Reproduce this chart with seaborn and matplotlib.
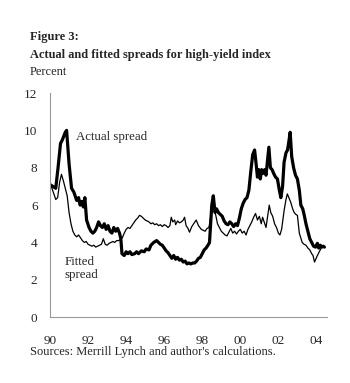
import pandas as pd
import numpy as np
import matplotlib
matplotlib.use("Agg")
import matplotlib.pyplot as plt
import seaborn as sns

# actual spread (thick line): time in years, value in percent
actual_t = [1990.0, 1990.15, 1990.3, 1990.42, 1990.55, 1990.65, 1990.8, 1990.87, 1991.0, 1991.13,
            1991.25, 1991.4, 1991.5, 1991.58, 1991.67, 1991.75, 1991.83, 1991.92, 1992.05, 1992.15,
            1992.25, 1992.35, 1992.45, 1992.55, 1992.65, 1992.75, 1992.85, 1992.95, 1993.05, 1993.15,
            1993.25, 1993.35, 1993.45, 1993.55, 1993.65, 1993.72, 1993.78, 1993.9, 1994.0, 1994.1,
            1994.2, 1994.3, 1994.45, 1994.55, 1994.65, 1994.8, 1994.95, 1995.05, 1995.2, 1995.3,
            1995.45, 1995.6, 1995.7, 1995.8, 1995.9, 1996.0, 1996.1, 1996.2, 1996.3, 1996.4,
            1996.5, 1996.6, 1996.7, 1996.8, 1996.9, 1997.0, 1997.1, 1997.2, 1997.3, 1997.4,
            1997.5, 1997.6, 1997.7, 1997.8, 1997.9, 1998.0, 1998.1, 1998.2, 1998.3, 1998.38,
            1998.5, 1998.58, 1998.67, 1998.75, 1998.85, 1998.95, 1999.05, 1999.15, 1999.25, 1999.35,
            1999.45, 1999.55, 1999.65, 1999.75, 1999.85, 1999.95, 2000.05, 2000.15, 2000.25, 2000.35,
            2000.45, 2000.55, 2000.65, 2000.75, 2000.82, 2000.9, 2000.97, 2001.05, 2001.12, 2001.2,
            2001.28, 2001.35, 2001.42, 2001.5, 2001.58, 2001.67, 2001.75, 2001.85, 2001.95, 2002.05,
            2002.13, 2002.22, 2002.3, 2002.4, 2002.48, 2002.55, 2002.62, 2002.7, 2002.8, 2002.9,
            2003.0, 2003.1, 2003.18, 2003.28, 2003.35, 2003.45, 2003.55, 2003.65, 2003.75, 2003.85,
            2003.95, 2004.05, 2004.12, 2004.2, 2004.28, 2004.35, 2004.42]
actual_v = [7.1, 7.0, 6.9, 8.0, 9.3, 9.5, 9.9, 10.0, 8.2, 6.9,
            6.7, 6.25, 6.4, 6.0, 6.2, 5.9, 6.4, 5.2, 4.8, 4.6,
            4.5, 4.6, 4.8, 5.1, 4.9, 4.8, 5.0, 4.7, 4.9, 4.6,
            4.5, 4.8, 4.6, 4.75, 4.5, 4.2, 3.4, 3.3, 3.5, 3.4,
            3.5, 3.35, 3.4, 3.5, 3.4, 3.55, 3.5, 3.65, 3.6, 3.85,
            4.0, 4.1, 4.0, 3.9, 3.85, 3.7, 3.55, 3.45, 3.3, 3.15,
            3.3, 3.1, 3.2, 3.05, 3.1, 2.95, 3.0, 2.85, 2.9, 2.85,
            2.9, 2.9, 3.0, 3.15, 3.2, 3.4, 3.6, 3.7, 3.85, 4.0,
            6.0, 6.5, 5.6, 5.8, 5.6, 5.5, 5.4, 5.15, 5.0, 4.95,
            5.1, 5.0, 4.85, 5.0, 4.9, 5.3, 5.8, 6.1, 6.3, 6.4,
            6.8, 7.8, 8.7, 8.95, 8.3, 7.5, 7.9, 7.4, 7.9, 7.7,
            7.9, 7.6, 8.3, 9.1, 8.0, 7.9, 7.7, 7.5, 7.4, 6.8,
            6.4, 7.0, 8.3, 8.8, 8.95, 9.4, 9.9, 8.6, 8.0, 7.6,
            7.4, 6.8, 6.0, 5.8, 5.5, 5.0, 4.6, 4.2, 4.0, 3.8,
            3.75, 3.95, 3.7, 3.85, 3.75, 3.8, 3.75]

# fitted spread (thin line)
fitted_t = [1990.0, 1990.1, 1990.2, 1990.3, 1990.4, 1990.5, 1990.6, 1990.7, 1990.8, 1990.9,
            1991.0, 1991.1, 1991.2, 1991.3, 1991.4, 1991.5, 1991.6, 1991.7, 1991.8, 1991.9,
            1992.0, 1992.1, 1992.2, 1992.3, 1992.4, 1992.5, 1992.6, 1992.7, 1992.8, 1992.9,
            1993.0, 1993.1, 1993.2, 1993.3, 1993.4, 1993.5, 1993.6, 1993.7, 1993.8, 1993.9,
            1994.0, 1994.1, 1994.2, 1994.3, 1994.4, 1994.5, 1994.6, 1994.7, 1994.8, 1994.9,
            1995.0, 1995.1, 1995.2, 1995.3, 1995.4, 1995.5, 1995.6, 1995.7, 1995.8, 1995.9,
            1996.0, 1996.1, 1996.2, 1996.3, 1996.37, 1996.45, 1996.55, 1996.6, 1996.7, 1996.8,
            1996.9, 1997.0, 1997.07, 1997.15, 1997.25, 1997.33, 1997.45, 1997.55, 1997.68, 1997.8,
            1997.95, 1998.05, 1998.15, 1998.25, 1998.35, 1998.45, 1998.55, 1998.62, 1998.7, 1998.8,
            1998.9, 1999.0, 1999.1, 1999.2, 1999.3, 1999.4, 1999.5, 1999.6, 1999.7, 1999.8,
            1999.9, 2000.0, 2000.1, 2000.2, 2000.3, 2000.4, 2000.5, 2000.6, 2000.7, 2000.8,
            2000.9, 2001.0, 2001.1, 2001.17, 2001.25, 2001.35, 2001.45, 2001.52, 2001.6, 2001.7,
            2001.8, 2001.9, 2002.0, 2002.08, 2002.17, 2002.3, 2002.4, 2002.47, 2002.55, 2002.65,
            2002.75, 2002.83, 2002.92, 2003.0, 2003.1, 2003.25, 2003.35, 2003.45, 2003.55, 2003.65,
            2003.75, 2003.82, 2003.9, 2004.05, 2004.15, 2004.25, 2004.35, 2004.42]
fitted_v = [7.1, 6.9, 6.6, 6.3, 6.4, 7.2, 7.65, 7.3, 6.9, 6.5,
            5.6, 5.0, 4.6, 4.4, 4.3, 4.4, 4.25, 4.1, 4.0, 4.05,
            3.9, 3.85, 3.8, 3.85, 3.75, 3.8, 3.85, 3.9, 4.2, 3.9,
            3.85, 3.95, 4.0, 4.05, 4.0, 4.1, 4.1, 4.15, 4.25, 4.5,
            4.7, 4.8, 4.75, 4.9, 5.05, 5.2, 5.3, 5.45, 5.4, 5.3,
            5.2, 5.15, 5.1, 5.0, 5.05, 4.95, 5.0, 4.9, 4.95, 4.85,
            4.95, 4.9, 4.8, 4.9, 5.35, 5.1, 5.2, 4.95, 5.15, 5.05,
            5.1, 5.2, 5.35, 4.9, 4.75, 4.55, 4.85, 5.0, 5.2, 4.9,
            4.7, 4.65, 4.6, 4.75, 4.8, 5.4, 6.1, 5.9, 5.5, 5.0,
            4.8, 4.6, 4.5, 4.4, 4.35, 4.55, 4.75, 4.5, 4.6, 4.45,
            4.6, 4.7, 4.5, 4.6, 4.4, 4.7, 4.9, 5.1, 5.35, 5.55,
            5.2, 5.4, 5.0, 5.35, 5.1, 4.8, 5.5, 6.0, 5.6, 5.4,
            5.0, 4.8, 4.5, 4.4, 4.7, 5.7, 6.3, 6.6, 6.4, 6.15,
            5.8, 5.6, 5.5, 5.45, 4.5, 4.0, 3.9, 3.85, 3.7, 3.6,
            3.4, 3.3, 2.95, 3.3, 3.5, 3.7, 3.75, 3.8]

year_ticks = [1990, 1992, 1994, 1996, 1998, 2000, 2002, 2004]
year_labels = ["90", "92", "94", "96", "98", "00", "02", "04"]

sns.set_style("white")
plt.rcParams['font.family'] = ['Liberation Serif', 'DejaVu Serif']

df_a = pd.DataFrame({"t": actual_t, "v": actual_v})
df_f = pd.DataFrame({"t": fitted_t, "v": fitted_v})

fig = plt.figure(figsize=(3.5, 3.83), dpi=100)
ax = fig.add_axes([0.143, 0.172, 0.791, 0.585])
sns.lineplot(data=df_f, x="t", y="v", color="black", linewidth=0.9, ax=ax)
sns.lineplot(data=df_a, x="t", y="v", color="black", linewidth=2.3, ax=ax)

ax.set_xlim(1990, 2004.55)
ax.set_ylim(0, 12)
ax.set_xticks(year_ticks)
ax.set_xticklabels(year_labels)
ax.set_yticks(range(0, 13, 2))
ax.set_xlabel("")
ax.set_ylabel("")
for s in ["top", "right"]:
    ax.spines[s].set_visible(False)
for s in ["left", "bottom"]:
    ax.spines[s].set_color("#999999")
    ax.spines[s].set_linewidth(0.8)
ax.tick_params(axis="both", length=3, width=0.8, color="#999999", labelsize=9.5, pad=6)
ax.tick_params(axis="x", pad=10)

ax.text(1991.35, 9.65, "Actual spread", fontsize=9.3, va="center")
ax.text(1990.75, 3.25, "Fitted\nspread", fontsize=9.3, va="top", linespacing=1.1)

fig.text(0.086, 0.903, "Figure 3:", fontsize=9, fontweight="bold", va="center")
fig.text(0.086, 0.857, "Actual and fitted spreads for high-yield index", fontsize=8.9,
         fontweight="bold", va="center")
fig.text(0.086, 0.812, "Percent", fontsize=9, va="center")
fig.text(0.086, 0.081, "Sources: Merrill Lynch and author's calculations.", fontsize=9, va="center")

fig.savefig("out.png", dpi=100)
